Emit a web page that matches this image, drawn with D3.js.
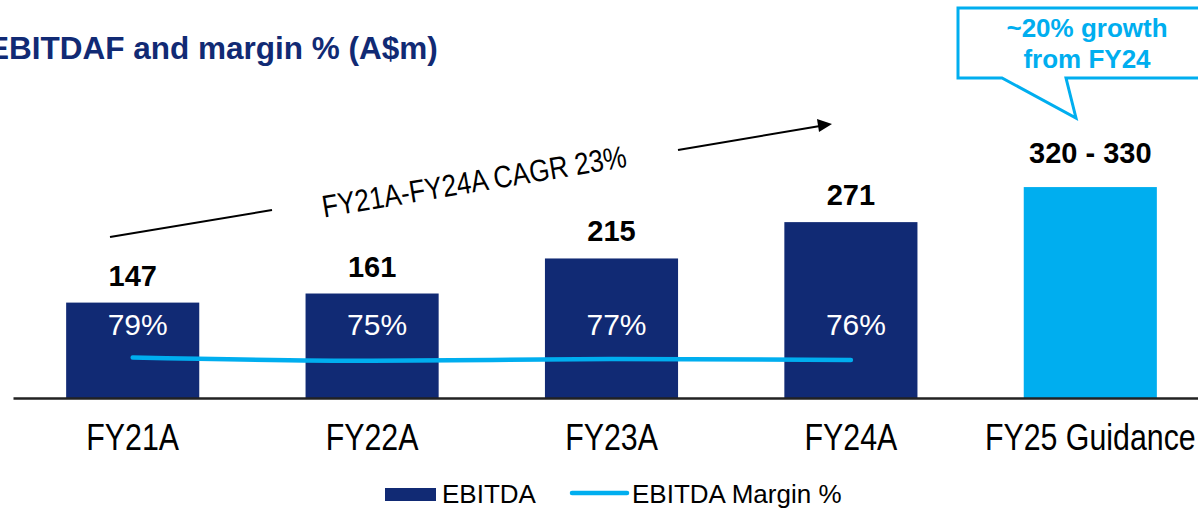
<!DOCTYPE html>
<html><head><meta charset="utf-8">
<script src="https://cdn.jsdelivr.net/npm/d3@7"></script>
<style>
html,body{margin:0;padding:0;background:#fff;overflow:hidden}
svg{display:block}
</style>
</head><body>
<svg id="chart" width="1198" height="508"></svg>
<script>
// ---- data ----
const categories = ["FY21A", "FY22A", "FY23A", "FY24A", "FY25 Guidance"];
const ebitda = [147, 161, 215, 271, 325];
const ebitdaLabels = ["147", "161", "215", "271", "320 - 330"];
const marginCategories = ["FY21A", "FY22A", "FY23A", "FY24A"];
const marginPct = [79, 75, 77, 76];
const marginLabels = ["79%", "75%", "77%", "76%"];
const legendLabels = ["EBITDA", "EBITDA Margin %"];
const titleText = "EBITDAF and margin % (A$m)";
const cagrText = "FY21A-FY24A CAGR 23%";
const calloutLines = ["~20% growth", "from FY24"];

// ---- styles ----
const NAVY = "#112A74";
const CYAN = "#00AEEF";
const SANS = "'Liberation Sans',Arial,Helvetica,sans-serif";

const svg = d3.select("#chart");
const baseY = 398;

const x = d3.scaleBand().domain(categories).range([13, 1210]).paddingInner(0.444).paddingOuter(0.222);
const y = d3.scaleLinear().domain([0, 400]).range([baseY, baseY - 400 * 0.649]);
const yM = d3.scaleLinear().domain([0, 100]).range([423, 340]);

// title
svg.append("text").attr("x", -12).attr("y", 59)
  .attr("font-family", SANS).attr("font-weight", "bold").attr("font-size", 31.5)
  .attr("fill", NAVY).text(titleText);

// bars
const data = categories.map((c, i) => ({c, v: ebitda[i], lab: ebitdaLabels[i], i}));
svg.selectAll("rect.bar").data(data).join("rect").attr("class", "bar")
  .attr("x", d => x(d.c)).attr("width", x.bandwidth())
  .attr("y", d => y(d.v)).attr("height", d => baseY - y(d.v))
  .attr("fill", d => d.i === 4 ? CYAN : NAVY);

// value labels
svg.selectAll("text.val").data(data).join("text").attr("class", "val")
  .attr("x", d => x(d.c) + x.bandwidth() / 2)
  .attr("y", d => y(d.v) - (d.i === 4 ? 24 : 17))
  .attr("text-anchor", "middle").attr("font-family", SANS).attr("font-weight", "bold")
  .attr("font-size", 29).attr("fill", "#000").text(d => d.lab);

// margin labels
const mdata = marginCategories.map((c, i) => ({c, m: marginPct[i], lab: marginLabels[i]}));
svg.selectAll("text.pct").data(mdata).join("text").attr("class", "pct")
  .attr("x", d => x(d.c) + x.bandwidth() / 2 + 5).attr("y", 335)
  .attr("text-anchor", "middle").attr("font-family", SANS).attr("font-size", 30)
  .attr("fill", "#fff").text(d => d.lab);

// margin line
const line = d3.line().x(d => x(d.c) + x.bandwidth() / 2).y(d => yM(d.m)).curve(d3.curveMonotoneX);
svg.append("path").datum(mdata).attr("d", line)
  .attr("fill", "none").attr("stroke", CYAN).attr("stroke-width", 4.5).attr("stroke-linecap", "round");

// axis
const ax = svg.append("g").attr("transform", `translate(0,${baseY})`)
  .call(d3.axisBottom(x).tickSize(0).tickSizeOuter(0));
ax.select(".domain").attr("stroke", "#222").attr("stroke-width", 2.5);
ax.selectAll(".tick text").attr("y", 52).attr("dy", 0)
  .attr("transform", "scale(0.82,1)")
  .attr("font-family", SANS).attr("font-size", 37).attr("fill", "#000");

// CAGR annotation
const angle = -9.5;
svg.append("line").attr("x1", 110).attr("y1", 237).attr("x2", 272).attr("y2", 210)
  .attr("stroke", "#000").attr("stroke-width", 2);
svg.append("line").attr("x1", 678).attr("y1", 150).attr("x2", 820).attr("y2", 126)
  .attr("stroke", "#000").attr("stroke-width", 2);
svg.append("path").attr("d", "M832,124 L817,119 L819,132 Z").attr("fill", "#000");
svg.append("text").attr("transform", `translate(476,192) rotate(${angle}) scale(0.84,1)`)
  .attr("text-anchor", "middle").attr("font-family", SANS).attr("font-size", 31)
  .attr("fill", "#000").text(cagrText);

// callout
svg.append("path")
  .attr("d", "M958,8 L1210,8 L1210,78 L1066,78 L1076,118 L1002,78 L958,78 Z")
  .attr("fill", "#fff").attr("stroke", CYAN).attr("stroke-width", 3).attr("stroke-linejoin", "miter");
svg.selectAll("text.call").data(calloutLines).join("text").attr("class", "call")
  .attr("x", 1087).attr("y", (d, i) => 37 + i * 31)
  .attr("text-anchor", "middle").attr("font-family", SANS).attr("font-weight", "bold")
  .attr("font-size", 26).attr("fill", CYAN).text(d => d);

// legend
const lg = svg.append("g");
lg.append("rect").attr("x", 385).attr("y", 488).attr("width", 51).attr("height", 13).attr("fill", NAVY);
lg.append("text").attr("x", 442).attr("y", 503).attr("font-family", SANS).attr("font-size", 26)
  .attr("fill", "#000").text(legendLabels[0]);
lg.append("line").attr("x1", 572).attr("y1", 493).attr("x2", 627).attr("y2", 493)
  .attr("stroke", CYAN).attr("stroke-width", 4.5).attr("stroke-linecap", "round");
lg.append("text").attr("x", 632).attr("y", 503).attr("font-family", SANS).attr("font-size", 26)
  .attr("fill", "#000").text(legendLabels[1]);
</script>
</body></html>
